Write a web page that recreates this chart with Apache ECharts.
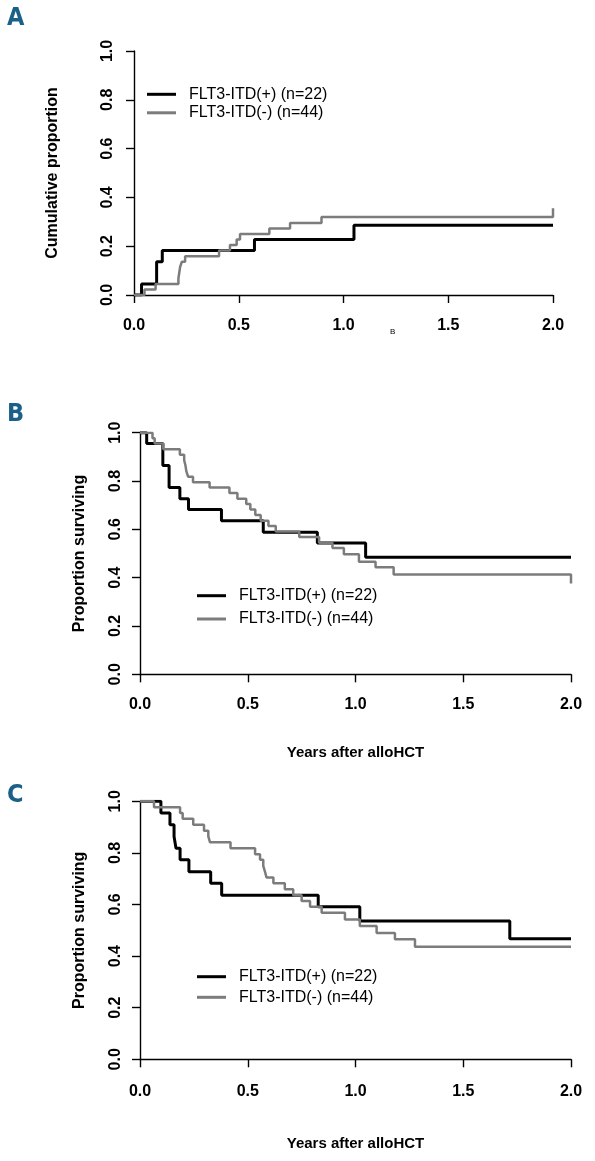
<!DOCTYPE html>
<html>
<head>
<meta charset="utf-8">
<script src="https://cdn.jsdelivr.net/npm/echarts@6/dist/echarts.min.js"></script>
<style>
html,body{margin:0;padding:0;background:#fff;}
#chart{width:595px;height:1161px;}
</style>
</head>
<body>
<div id="chart"></div>
<script>
// ---------- Data ----------
const posName = 'FLT3-ITD(+) (n=22)';
const negName = 'FLT3-ITD(-) (n=44)';
const xTicks = [0, 0.5, 1.0, 1.5, 2.0];
const yTicks = [0, 0.2, 0.4, 0.6, 0.8, 1.0];

// Panel A: cumulative proportion
const aPosT = [0, 0.036, 0.108, 0.135, 0.575, 1.05, 2.0];
const aPosV = [0, 0.045, 0.136, 0.182, 0.227, 0.286, 0.286];
const aNegT = [0, 0.05, 0.103, 0.212, 0.216, 0.22, 0.228, 0.244, 0.406, 0.458, 0.49, 0.506, 0.646, 0.745, 0.895, 2.0];
const aNegV = [0, 0.023, 0.045, 0.068, 0.091, 0.114, 0.136, 0.159, 0.182, 0.205, 0.227, 0.25, 0.273, 0.295, 0.32, 0.356];

// Panel B: proportion surviving
const bPosT = [0, 0.031, 0.106, 0.135, 0.185, 0.225, 0.378, 0.572, 0.823, 1.047, 2.0];
const bPosV = [1, 0.955, 0.864, 0.773, 0.727, 0.682, 0.636, 0.588, 0.543, 0.484, 0.484];
const bNegT = [0, 0.058, 0.068, 0.108, 0.185, 0.205, 0.211, 0.215, 0.223, 0.246, 0.323, 0.415, 0.452, 0.493, 0.512, 0.535, 0.56, 0.596, 0.63, 0.739, 0.831, 0.893, 0.946, 1.016, 1.093, 1.177, 2.0];
const bNegV = [1, 0.977, 0.955, 0.932, 0.909, 0.886, 0.864, 0.841, 0.818, 0.795, 0.773, 0.75, 0.727, 0.705, 0.682, 0.659, 0.636, 0.614, 0.591, 0.568, 0.545, 0.523, 0.497, 0.466, 0.443, 0.413, 0.376];

// Panel C: proportion surviving
const cPosT = [0, 0.097, 0.139, 0.158, 0.167, 0.186, 0.227, 0.328, 0.379, 0.827, 1.02, 1.716, 2.0];
const cPosV = [1, 0.955, 0.909, 0.864, 0.818, 0.773, 0.727, 0.682, 0.636, 0.591, 0.536, 0.467, 0.467];
const cNegT = [0, 0.065, 0.186, 0.198, 0.247, 0.297, 0.317, 0.325, 0.42, 0.534, 0.557, 0.572, 0.58, 0.587, 0.619, 0.672, 0.711, 0.75, 0.789, 0.843, 0.951, 1.02, 1.098, 1.183, 1.276, 2.0];
const cNegV = [1, 0.977, 0.955, 0.932, 0.909, 0.886, 0.864, 0.841, 0.818, 0.795, 0.773, 0.75, 0.727, 0.705, 0.682, 0.659, 0.636, 0.614, 0.591, 0.568, 0.542, 0.517, 0.49, 0.465, 0.436, 0.436];

const yTitles = ['Cumulative proportion', 'Proportion surviving', 'Proportion surviving'];
const xTitles = ['', 'Years after alloHCT', 'Years after alloHCT'];
const panelLetters = ['A', 'B', 'C'];

// ---------- Build ----------
const zip = (t, v) => t.map((x, i) => [x, v[i]]);
const FONT = "'Liberation Sans', Arial, Helvetica, sans-serif";
const BLACK = '#000000';
const GREY = '#7c7c7c';

const grids = [
  {left: 134, top: 51, width: 419, height: 244},
  {left: 140, top: 432.7, width: 431, height: 241.6},
  {left: 140, top: 801.3, width: 431, height: 258}
];
const xLabelMargin = [23, 22, 24.5];
const yLabelMargin = [18.5, 16.5, 16.5];
const yNameGap = [73, 52, 52];
const xNameGap = [70, 71, 77];

const axisLineStyle = {show: true, lineStyle: {color: '#000', width: 1.4}};
const tickStyle = {show: true, length: 8, inside: false, lineStyle: {color: '#000', width: 1.4}};

const xAxes = grids.map((g, i) => ({
  type: 'value', gridIndex: i, min: 0, max: 2, interval: 0.5,
  axisLine: axisLineStyle, axisTick: tickStyle, splitLine: {show: false},
  axisLabel: {show: true, margin: xLabelMargin[i], fontSize: 16, fontWeight: 'bold', color: '#000', fontFamily: FONT,
    formatter: v => v.toFixed(1), showMinLabel: true, showMaxLabel: true},
  name: xTitles[i], nameLocation: 'middle', nameGap: xNameGap[i],
  nameTextStyle: {fontSize: 15, fontWeight: 'bold', color: '#000', fontFamily: FONT}
}));
const yAxes = grids.map((g, i) => ({
  type: 'value', gridIndex: i, min: 0, max: 1, interval: 0.2,
  axisLine: axisLineStyle, axisTick: tickStyle, splitLine: {show: false},
  axisLabel: {show: true, rotate: 90, margin: yLabelMargin[i], fontSize: 16, fontWeight: 'bold', color: '#000', fontFamily: FONT,
    formatter: v => v.toFixed(1), showMinLabel: true, showMaxLabel: true},
  name: yTitles[i], nameLocation: 'middle', nameGap: yNameGap[i], nameRotate: 90,
  nameTextStyle: {fontSize: 16, fontWeight: 'bold', color: '#000', fontFamily: FONT}
}));

const panels = [[aPosT, aPosV, aNegT, aNegV], [bPosT, bPosV, bNegT, bNegV], [cPosT, cPosV, cNegT, cNegV]];
const series = [];
panels.forEach((p, i) => {
  series.push({type: 'line', name: posName, xAxisIndex: i, yAxisIndex: i, step: 'end', symbol: 'none',
    data: zip(p[0], p[1]), lineStyle: {color: BLACK, width: 3}, itemStyle: {color: BLACK}, z: 2});
  series.push({type: 'line', name: negName, xAxisIndex: i, yAxisIndex: i, step: 'end', symbol: 'none',
    data: zip(p[2], p[3]), lineStyle: {color: GREY, width: 2.5}, itemStyle: {color: GREY}, z: 3});
});

const legendPos = [
  {left: 147, top: 86.3, itemGap: 2.5},
  {left: 197, top: 587.7, itemGap: 7.3},
  {left: 197, top: 968.7, itemGap: 4.6}
];
const legends = legendPos.map(lp => ({
  show: true, orient: 'vertical', left: lp.left, top: lp.top, itemGap: lp.itemGap, padding: 0,
  itemWidth: 29, itemHeight: 3, icon: 'rect', selectedMode: false,
  data: [posName, negName],
  textStyle: {fontSize: 16, color: '#000', fontFamily: FONT, padding: [0, 0, 0, 8]}
}));

const letterTops = [6, 402, 783];
const graphics = panelLetters.map((L, i) => ({
  type: 'text', left: 7, top: letterTops[i],
  style: {text: L, fill: '#1b6088', font: "bold 25px 'Liberation Sans Narrow', 'DejaVu Sans Condensed', 'Liberation Sans', sans-serif"}
}));
graphics.push({type: 'text', left: 390, top: 328,
  style: {text: 'B', fill: '#000', font: "8px 'Liberation Sans', Arial, sans-serif"}});

const chart = echarts.init(document.getElementById('chart'), null, {renderer: 'canvas'});
chart.setOption({
  backgroundColor: '#fff',
  animation: false,
  grid: grids,
  xAxis: xAxes,
  yAxis: yAxes,
  legend: legends,
  series: series,
  graphic: graphics
});
</script>
</body>
</html>
